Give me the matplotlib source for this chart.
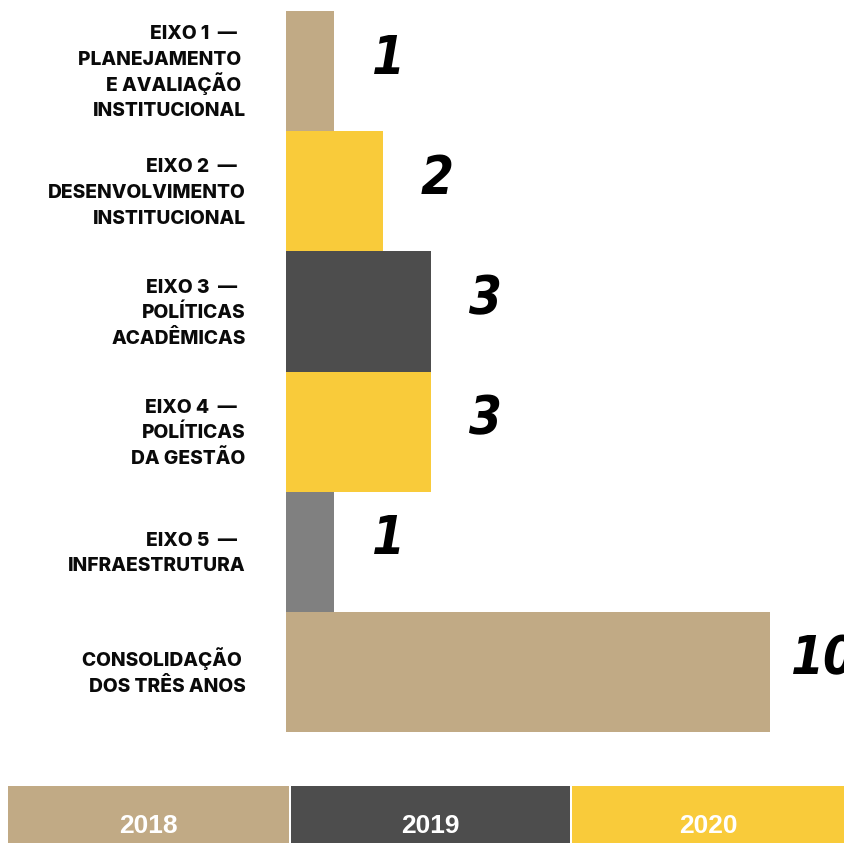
import matplotlib
matplotlib.use("Agg")
import matplotlib.pyplot as plt
from matplotlib.patches import Rectangle
from matplotlib import font_manager

categories = [
    ["EIXO 1  —  ", "PLANEJAMENTO ", "E AVALIAÇÃO ", "INSTITUCIONAL"],
    ["EIXO 2  —  ", "DESENVOLVIMENTO", "INSTITUCIONAL"],
    ["EIXO 3  —  ", "POLÍTICAS", "ACADÊMICAS"],
    ["EIXO 4  —  ", "POLÍTICAS", "DA GESTÃO"],
    ["EIXO 5  —  ", "INFRAESTRUTURA"],
    ["CONSOLIDAÇÃO ", "DOS TRÊS ANOS"],
]
values = [1, 2, 3, 3, 1, 10]
value_labels = ["1", "2", "3", "3", "1", "10"]
bar_colors = ["#C1AA85", "#F9CB3A", "#4D4D4D", "#F9CB3A", "#808080", "#C1AA85"]
years = ["2018", "2019", "2020"]
year_colors = ["#C1AA85", "#4D4D4D", "#F9CB3A"]

names = {f.name for f in font_manager.fontManager.ttflist}
narrow = "Liberation Sans Narrow" if "Liberation Sans Narrow" in names else "Liberation Sans"
label_font = "Inter" if "Inter" in names else "Roboto"

W, H = 845, 843
fig = plt.figure(figsize=(W / 100, H / 100), dpi=100)
fig.patch.set_facecolor("white")

left, right = 286 / W, 1.0
bottom, top = 1 - 732 / H, 1 - 11 / H
ax = fig.add_axes([left, bottom, right - left, top - bottom])
px_per_unit = 48.4
ax.set_xlim(0, (W - 286) / px_per_unit)
ax.set_ylim(len(values) - 0.5, -0.5)
y = list(range(len(values)))
ax.barh(y, values, height=1.0, color=bar_colors, edgecolor="none")
ax.axis("off")

for yi, v, lab in zip(y, values, value_labels):
    ax.annotate(lab, xy=(v, yi), xytext=(39, 9), textcoords="offset points",
                ha="center", va="center", fontsize=38, fontweight="heavy",
                fontstyle="italic", fontstretch="condensed",
                family="DejaVu Sans", color="black", annotation_clip=False)

line_pt = 18.5
for yi, lines in zip(y, categories):
    n = len(lines)
    for i, line in enumerate(lines):
        dy = -(i - (n - 1) / 2) * line_pt - 4.9
        ax.annotate(line, xy=(0, yi), xytext=(-29, dy), textcoords="offset points",
                    ha="right", va="baseline", fontsize=13.8, fontweight="heavy",
                    family=label_font, color="#0a0a0a")

lax = fig.add_axes([0, 0, 1, 57 / H])
lax.set_xlim(0, W)
lax.set_ylim(0, 57)
lax.axis("off")
edges = [(8, 289), (291, 570), (572, 845)]
for (x0, x1), yr, c in zip(edges, years, year_colors):
    lax.add_patch(Rectangle((x0, 0), x1 - x0, 57, color=c, lw=0))
    lax.text((x0 + x1) / 2, 10, yr, ha="center", va="baseline", color="white",
             fontsize=19, fontweight="bold", family=narrow)

fig.savefig("out.png", dpi=100, facecolor="white")
